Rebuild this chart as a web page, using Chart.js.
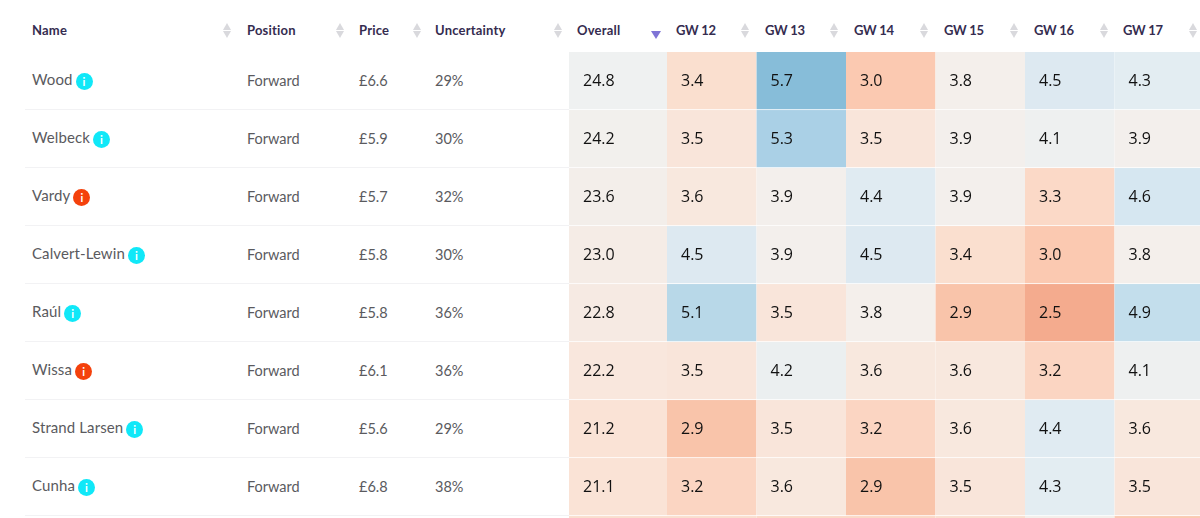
<!DOCTYPE html>
<html>
<head>
<meta charset="utf-8">
<script src="https://cdn.jsdelivr.net/npm/chart.js@4"></script>
<style>
  html, body { margin: 0; width: 1200px; height: 518px; overflow: hidden; background: #fff; }
  .wrap { position: absolute; left: 0; top: 0; width: 1200px; height: 518px; overflow: hidden; font-family: Lato, sans-serif; }
  .chart { position: absolute; top: 52px; height: 522px; }
  .chart canvas { display: block; }
  .head { position: absolute; top: 22px; font-size: 13px; font-weight: 700; color: #352c50; line-height: 16px; white-space: nowrap; letter-spacing: .2px; }
  .head.gw { letter-spacing: -.3px; }
  .cell { position: absolute; font-size: 14.5px; color: #5a5a5e; line-height: 18px; white-space: nowrap; }
  .cell.name { font-size: 15px; letter-spacing: .1px; }
  .rule { position: absolute; left: 25px; width: 544px; height: 1px; background: #f2f2f4; }
  .sort { position: absolute; top: 23px; width: 0; height: 0; border-left: 4.5px solid transparent; border-right: 4.5px solid transparent; }
  .sort.up { border-bottom: 7px solid #d9d9dd; }
  .sort.down { top: 31px; border-top: 7px solid #d9d9dd; }
  .sort.active { top: 31px; border-left-width: 5px; border-right-width: 5px; border-top: 8px solid #7f74d6; }
  .info { display: inline-block; width: 17px; height: 17px; border-radius: 50%; margin-left: 3px; color: #fff; font-size: 11px; font-weight: 700; line-height: 17px; text-align: center; vertical-align: -1.5px; letter-spacing: 0; }
  .info.ok { background: #10e8f8; }
  .info.warn { background: #f4410c; }
</style>
</head>
<body>
<div class="wrap" id="wrap">
  <div class="chart" style="left:569px;width:98px"><canvas id="chart-overall"></canvas></div>
  <div class="chart" style="left:667px;width:537px"><canvas id="chart-gw"></canvas></div>
</div>
<script>
const players = ['Wood', 'Welbeck', 'Vardy', 'Calvert-Lewin', 'Raúl', 'Wissa', 'Strand Larsen', 'Cunha'];
const flags = ['ok', 'ok', 'warn', 'ok', 'ok', 'warn', 'ok', 'ok'];
const positions = ['Forward', 'Forward', 'Forward', 'Forward', 'Forward', 'Forward', 'Forward', 'Forward'];
const prices = ['£6.6', '£5.9', '£5.7', '£5.8', '£5.8', '£6.1', '£5.6', '£6.8'];
const uncertainty = ['29%', '30%', '32%', '30%', '36%', '36%', '29%', '38%'];

// last entry is the next row, cut off by the page: only its top edge shows, guessed from the colour
const overall = [24.8, 24.2, 23.6, 23.0, 22.8, 22.2, 21.2, 21.1, 21.0];
const gw12 = [3.4, 3.5, 3.6, 4.5, 5.1, 3.5, 2.9, 3.2, 3.4];
const gw13 = [5.7, 5.3, 3.9, 3.9, 3.5, 4.2, 3.5, 3.6, 3.3];
const gw14 = [3.0, 3.5, 4.4, 4.5, 3.8, 3.6, 3.2, 2.9, 3.3];
const gw15 = [3.8, 3.9, 3.9, 3.4, 2.9, 3.6, 3.6, 3.5, 3.4];
const gw16 = [4.5, 4.1, 3.3, 3.0, 2.5, 3.2, 4.4, 4.3, 3.8];
const gw17 = [4.3, 3.9, 4.6, 3.8, 4.9, 4.1, 3.6, 3.5, 3.0];

const gwLabels = ['GW 12', 'GW 13', 'GW 14', 'GW 15', 'GW 16', 'GW 17'];
const gwSeries = [gw12, gw13, gw14, gw15, gw16, gw17];

const ROW_H = 58;
const ROW_TOP = 52;

const GW_COLOURS = {
  2.5: '#f4ab8e', 2.9: '#f9c4aa', 3.0: '#fbc9b1', 3.2: '#fbd5c2', 3.3: '#fbd9c7', 3.4: '#fadfcf',
  3.5: '#f9e5da', 3.6: '#f8e8de', 3.8: '#f4efeb', 3.9: '#f3efec', 4.1: '#eef0f0', 4.2: '#ebeff0',
  4.3: '#e3edf2', 4.4: '#e0ebf2', 4.5: '#dde9f1', 4.6: '#d6e7f1', 4.9: '#c3deec', 5.1: '#b8d8e8',
  5.3: '#aad0e6', 5.7: '#87bdd9'
};
const OVERALL_COLOURS = {
  24.8: '#eff1f1', 24.2: '#f2f0ed', 23.6: '#f3eeea', 23.0: '#f5ece6',
  22.8: '#f6eae3', 22.2: '#f9e7dd', 21.2: '#fae3d6', 21.1: '#fae3d6', 21.0: '#fadfcf'
};

const valueLabels = {
  id: 'valueLabels',
  afterDatasetsDraw(chart) {
    const ctx = chart.ctx;
    ctx.save();
    ctx.font = '16px "Open Sans"';
    ctx.fillStyle = '#111';
    ctx.textBaseline = 'middle';
    chart.data.datasets.forEach((ds, d) => {
      chart.getDatasetMeta(d).data.forEach((bar, i) => {
        const left = bar.x - bar.width / 2;
        ctx.fillText(ds.data[i].v.toFixed(1), left + 14, (bar.y + bar.base) / 2);
      });
    });
    ctx.restore();
  }
};

function heatChart(id, labels, series, colours) {
  const datasets = overall.map((_, r) => ({
    label: players[r] || '',
    data: series.map((vals, c) => ({ x: labels[c], y: [r, r + 1], v: vals[r] })),
    backgroundColor: series.map(vals => colours[vals[r]]),
    borderColor: 'rgba(255,255,255,0.75)',
    borderWidth: { top: 0, left: 0, right: 0, bottom: 1 },
    borderSkipped: false,
    grouped: false,
    barPercentage: 1,
    categoryPercentage: 1
  }));
  return new Chart(document.getElementById(id), {
    type: 'bar',
    data: { labels, datasets },
    options: {
      responsive: true,
      maintainAspectRatio: false,
      animation: false,
      layout: { padding: 0 },
      plugins: { legend: { display: false }, tooltip: { enabled: false } },
      scales: {
        x: { display: false },
        y: { display: false, reverse: true, min: 0, max: overall.length }
      }
    },
    plugins: [valueLabels]
  });
}

heatChart('chart-overall', ['Overall'], [overall], OVERALL_COLOURS);
heatChart('chart-gw', gwLabels, gwSeries, GW_COLOURS);

// table part left of the heatmap
const wrap = document.getElementById('wrap');

function addEl(cls, x, y, html) {
  const el = document.createElement('div');
  el.className = cls;
  el.style.left = x + 'px';
  if (y !== null) el.style.top = y + 'px';
  if (html) el.innerHTML = html;
  wrap.appendChild(el);
}

const heads = [
  ['Name', 32, 223], ['Position', 247, 336], ['Price', 359, 413], ['Uncertainty', 435, 554], ['Overall', 577, null],
  [gwLabels[0], 676, 741], [gwLabels[1], 765, 830], [gwLabels[2], 854, 920],
  [gwLabels[3], 944, 1010], [gwLabels[4], 1034, 1100], [gwLabels[5], 1123, 1189]
];
heads.forEach(([text, x, arrowX]) => {
  addEl(gwLabels.includes(text) ? 'head gw' : 'head', x, null, text);
  if (arrowX !== null) {
    addEl('sort up', arrowX, null);
    addEl('sort down', arrowX, null);
  }
});
addEl('sort active', 651, null);

players.forEach((name, r) => {
  const mid = ROW_TOP + ROW_H * r + 29;
  addEl('cell name', 32, mid - 11.5, `${name}<span class="info ${flags[r]}">i</span>`);
  addEl('cell', 247, mid - 9, positions[r]);
  addEl('cell', 359, mid - 9, prices[r]);
  addEl('cell', 435, mid - 9, uncertainty[r]);
  addEl('rule', 25, ROW_TOP + ROW_H * (r + 1) - 1);
});
</script>
</body>
</html>
